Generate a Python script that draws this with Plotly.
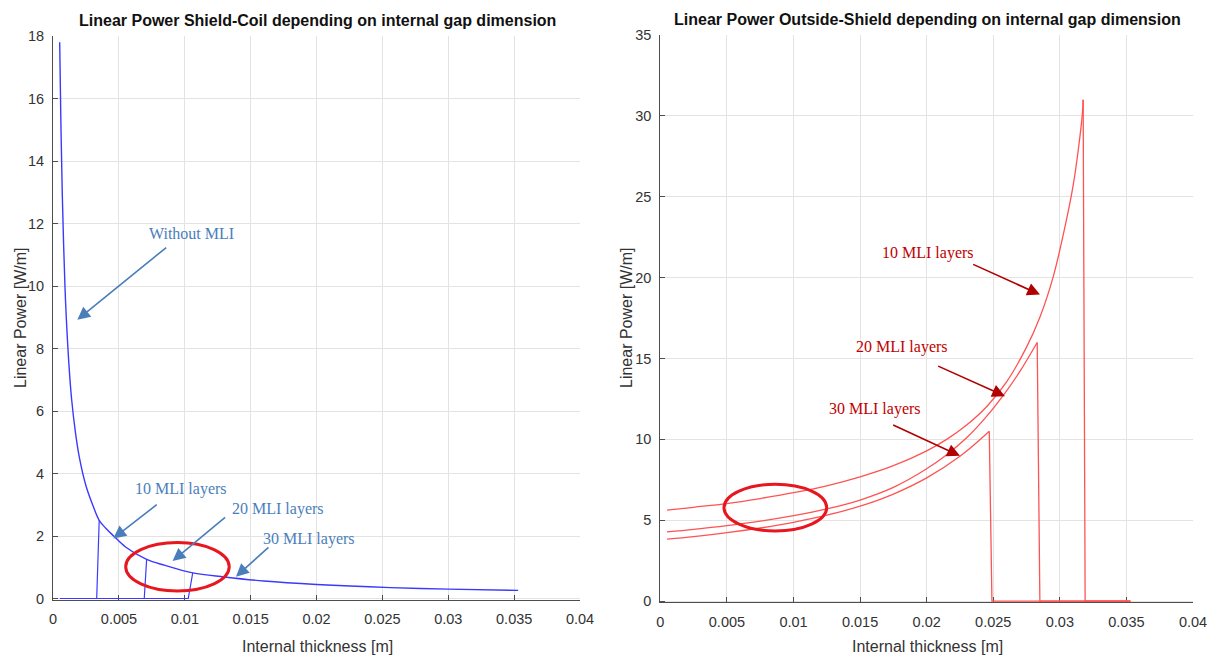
import plotly.graph_objects as go

# ---------------- data ----------------
# Left panel: Shield-Coil, without MLI
gap_left = [0.0005, 0.0006, 0.0007, 0.0008, 0.0009, 0.001, 0.0012, 0.0014, 0.0017,
            0.002, 0.0025, 0.003, 0.0035, 0.004, 0.0046, 0.0055, 0.0071, 0.0085,
            0.0106, 0.013, 0.016, 0.02, 0.0256, 0.03, 0.0353]
p_no_mli = [17.8, 15.0, 12.9, 11.3, 10.0, 9.0, 7.5, 6.4, 5.3,
            4.5, 3.6, 3.0, 2.5, 2.25, 2.0, 1.65, 1.25, 1.06,
            0.82, 0.69, 0.56, 0.45, 0.35, 0.30, 0.26]
# Left panel: MLI cases (zero until the threshold, then jump to the curve)
mli_names = ["10 MLI layers", "20 MLI layers", "30 MLI layers"]
mli_left_start = [0.00052, 0.00052, 0.00052]
mli_left_thr = [0.00331, 0.00692, 0.01026]
mli_left_join_x = [0.0035, 0.0071, 0.0106]
mli_left_join_y = [2.5, 1.25, 0.82]

# Right panel: Outside-Shield
gap_r10 = [0.0005, 0.0025, 0.005, 0.0075, 0.01, 0.0125, 0.015, 0.0175, 0.02, 0.0215,
           0.023, 0.0245, 0.026, 0.0275, 0.0285, 0.0295, 0.0304, 0.031, 0.0314, 0.0317, 0.03175]
p_r10 = [5.62, 5.8, 6.03, 6.34, 6.70, 7.13, 7.68, 8.37, 9.29, 10.0,
         10.89, 12.02, 13.55, 15.7, 17.55, 20.05, 23.2, 25.7, 28.0, 30.2, 31.0]
gap_r20 = [0.0005, 0.0025, 0.005, 0.0075, 0.01, 0.0125, 0.015, 0.0175, 0.02, 0.0215,
           0.023, 0.0245, 0.026, 0.027, 0.0283]
p_r20 = [4.28, 4.44, 4.67, 4.94, 5.28, 5.70, 6.25, 7.03, 8.18, 9.05,
         10.1, 11.42, 13.0, 14.2, 15.99]
gap_r30 = [0.0005, 0.0025, 0.005, 0.0075, 0.01, 0.0125, 0.015, 0.0175, 0.02, 0.0225, 0.0247]
p_r30 = [3.83, 3.99, 4.23, 4.52, 4.87, 5.31, 5.87, 6.62, 7.62, 8.95, 10.5]
drop_x = [0.0319, 0.0285, 0.0249]   # where each curve falls to zero
zero_end = 0.0353

x_ticks = [0, 0.005, 0.01, 0.015, 0.02, 0.025, 0.03, 0.035, 0.04]
x_tick_labels = ["0", "0.005", "0.01", "0.015", "0.02", "0.025", "0.03", "0.035", "0.04"]
yl_ticks = [0, 2, 4, 6, 8, 10, 12, 14, 16, 18]
yr_ticks = [0, 5, 10, 15, 20, 25, 30, 35]

title_left = "Linear Power Shield-Coil depending on internal gap dimension"
title_right = "Linear Power Outside-Shield depending on internal gap dimension"
x_title = "Internal thickness [m]"
y_title = "Linear Power [W/m]"

# ---------------- styles ----------------
BLUE = "#3a3aff"
RED = "#ff5252"
TXT_BLUE = "#4a7ebb"
TXT_RED = "#c00000"
AXC = "#4d4d4d"
GRID = "#e3e3e3"
SANS = "Liberation Sans, Arial, sans-serif"
SERIF = "Liberation Serif, Times New Roman, serif"

fig = go.Figure()

# Left panel traces
fig.add_trace(go.Scatter(x=gap_left, y=p_no_mli, mode="lines", line=dict(color=BLUE, width=1.4, shape="spline"),
                         name="Without MLI", xaxis="x", yaxis="y", showlegend=False))
for i in range(3):
    fig.add_trace(go.Scatter(
        x=[mli_left_start[i], mli_left_thr[i], mli_left_join_x[i]],
        y=[0, 0, mli_left_join_y[i]],
        mode="lines", line=dict(color=BLUE, width=1.2), name=mli_names[i],
        xaxis="x", yaxis="y", showlegend=False))

# Right panel traces
for gx, gy, dx, nm in [(gap_r10, p_r10, drop_x[0], mli_names[0]),
                       (gap_r20, p_r20, drop_x[1], mli_names[1]),
                       (gap_r30, p_r30, drop_x[2], mli_names[2])]:
    fig.add_trace(go.Scatter(x=gx, y=gy, mode="lines", line=dict(color=RED, width=1.3, shape="spline"),
                             name=nm, xaxis="x2", yaxis="y2", showlegend=False))
    fig.add_trace(go.Scatter(x=[gx[-1], dx, zero_end], y=[gy[-1], 0, 0], mode="lines",
                             line=dict(color=RED, width=1.3), name=nm,
                             xaxis="x2", yaxis="y2", showlegend=False))

axis_common = dict(showline=True, linecolor=AXC, linewidth=1, ticks="inside", ticklen=5,
                   tickcolor=AXC, showgrid=True, gridcolor=GRID, gridwidth=1, zeroline=False,
                   tickfont=dict(family=SANS, size=14.5, color="#333333"), mirror=False,
                   automargin=False, layer="below traces")

fig.update_layout(
    template="none",
    width=1215, height=658,
    margin=dict(l=0, r=0, t=0, b=0),
    paper_bgcolor="white", plot_bgcolor="white",
    showlegend=False,
    xaxis=dict(domain=[0.0437, 0.4774], range=[0, 0.04], tickvals=x_ticks, ticktext=x_tick_labels,
               anchor="y", ticklabelstandoff=6, **axis_common),
    yaxis=dict(domain=[0.0885, 0.9453], range=[-0.04, 18], tickvals=yl_ticks, anchor="x",
               ticklabelstandoff=5, **axis_common),
    xaxis2=dict(domain=[0.5435, 0.9819], range=[0, 0.04], tickvals=x_ticks, ticktext=x_tick_labels,
                anchor="y2", ticklabelstandoff=6, **axis_common),
    yaxis2=dict(domain=[0.0845, 0.9468], range=[-0.08, 35], tickvals=yr_ticks, anchor="x2",
                ticklabelstandoff=5, **axis_common),
)

ann = []
# titles and axis titles
ann.append(dict(text="<b>" + title_left + "</b>", xref="paper", yref="paper", x=317/1215, y=1-21/658,
                showarrow=False, font=dict(family=SANS, size=16, color="#111111"),
                xanchor="center", yanchor="middle"))
ann.append(dict(text="<b>" + title_right + "</b>", xref="paper", yref="paper", x=927/1215, y=1-19/658,
                showarrow=False, font=dict(family=SANS, size=16, color="#111111"),
                xanchor="center", yanchor="middle"))
for cx in (317, 927):
    ann.append(dict(text=x_title, xref="paper", yref="paper", x=cx/1215, y=1-646/658, showarrow=False,
                    font=dict(family=SANS, size=16, color="#333333"), xanchor="center", yanchor="middle"))
for cx in (20, 626):
    ann.append(dict(text=y_title, xref="paper", yref="paper", x=cx/1215, y=1-318/658, showarrow=False,
                    textangle=-90, font=dict(family=SANS, size=16, color="#333333"),
                    xanchor="center", yanchor="middle"))

# left panel labels + arrows
left_labels = [("Without MLI", 0.01051, 11.69, 0.0087, 11.27, 0.00184, 8.92),
               ("10 MLI layers", 0.0097, 3.49, 0.00798, 3.04, 0.00457, 1.92),
               ("20 MLI layers", 0.01706, 2.875, 0.01317, 2.64, 0.00907, 1.20),
               ("30 MLI layers", 0.01942, 1.917, 0.01646, 1.68, 0.01388, 0.70)]
for t, tx, ty, ax_, ay_, hx, hy in left_labels:
    ann.append(dict(text=t, x=tx, y=ty, xref="x", yref="y", showarrow=False,
                    font=dict(family=SERIF, size=16, color=TXT_BLUE)))
    ann.append(dict(text="", x=hx, y=hy, ax=ax_, ay=ay_, xref="x", yref="y", axref="x", ayref="y",
                    showarrow=True, arrowhead=2, arrowsize=1.6, arrowwidth=1.6, arrowcolor=TXT_BLUE))

right_labels = [("10 MLI layers", 0.0201, 21.54, 0.02338, 20.86, 0.02851, 18.95),
                ("20 MLI layers", 0.01811, 15.74, 0.02075, 14.57, 0.02588, 12.67),
                ("30 MLI layers", 0.01612, 11.85, 0.01737, 10.93, 0.0225, 8.98)]
for t, tx, ty, ax_, ay_, hx, hy in right_labels:
    ann.append(dict(text=t, x=tx, y=ty, xref="x2", yref="y2", showarrow=False,
                    font=dict(family=SERIF, size=16, color=TXT_RED)))
    ann.append(dict(text="", x=hx, y=hy, ax=ax_, ay=ay_, xref="x2", yref="y2", axref="x2", ayref="y2",
                    showarrow=True, arrowhead=2, arrowsize=1.6, arrowwidth=1.6, arrowcolor="#b00000"))

fig.update_layout(annotations=ann)

fig.add_shape(type="circle", xref="x", yref="y", x0=0.00551, x1=0.01337, y0=0.243, y1=1.79,
              line=dict(color="#e8161e", width=3))
fig.add_shape(type="circle", xref="x2", yref="y2", x0=0.00478, x1=0.01249, y0=4.34, y1=7.22,
              line=dict(color="#e8161e", width=3))

fig.write_html("out.html")
